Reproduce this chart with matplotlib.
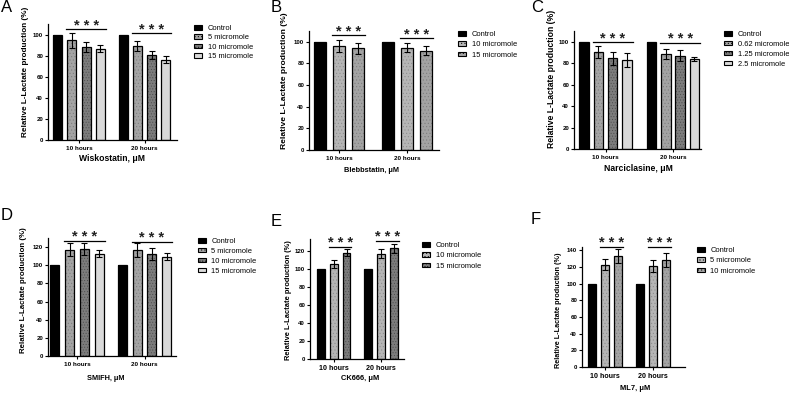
import matplotlib
matplotlib.use('Agg')
import matplotlib.pyplot as plt
from matplotlib.patches import Patch

plt.rcParams['font.family'] = 'Liberation Sans'
plt.rcParams['hatch.linewidth'] = 0.35

groups = ['10 hours', '20 hours']

# A - Wiskostatin
A_labels = ['Control', '5 micromole', '10 micromole', '15 micromole']
A_mean = [[100, 94.5, 88, 86.5], [100, 89.5, 80.5, 76]]
A_err = [[0, 7, 5, 3.5], [0, 4.8, 4, 3.4]]
A_sig = [105, 101]

# B - Blebbstatin
B_labels = ['Control', '10 micromole', '15 micromole']
B_mean = [[100, 96.5, 94], [100, 94.5, 91.7]]
B_err = [[0, 5.6, 5.2], [0, 4, 4.3]]
B_sig = [106, 103.5]

# C - Narciclasine
C_labels = ['Control', '0.62 micromole', '1.25 micromole', '2.5 micromole']
C_mean = [[100, 90, 84.5, 83.3], [100, 88.9, 87, 84]]
C_err = [[0, 5.6, 6, 6.5], [0, 4.6, 5.3, 2]]
C_sig = [99.5, 99]

# D - SMIFH
D_labels = ['Control', '5 micromole', '10 micromole', '15 micromole']
D_mean = [[100, 117, 117.8, 112.6], [100, 117, 112.5, 109.5]]
D_err = [[0, 7.2, 6.5, 4], [0, 7.5, 6.3, 4]]
D_sig = [127, 126]

# E - CK666
E_labels = ['Control', '10 micromole', '15 micromole']
E_mean = [[100, 105, 118], [100, 116.5, 122.5]]
E_err = [[0, 4.4, 3.4], [0, 5, 5.5]]
E_sig = [124.5, 131]

# F - ML7
F_labels = ['Control', '5 micromole', '10 micromole']
F_mean = [[100, 123, 133], [100, 121, 128.5]]
F_err = [[0, 7, 8.5], [0, 7, 8.8]]
F_sig = [144.5, 144.5]

W, H = 789, 395
fig = plt.figure(figsize=(W / 100, H / 100), dpi=100)


def box(l, t, r, b):
    return [l / W, 1 - b / H, (r - l) / W, (b - t) / H]


def panel(letter, lay, labels, means, errs, sig, styles, xlabel):
    l, t, r, b = lay['box']
    ax = fig.add_axes(box(l, t, r, b))
    n = len(labels)
    handles = []
    for g, gc in enumerate(lay['centers']):
        xs = []
        for i in range(n):
            x = gc + (i - (n - 1) / 2) * lay['step']
            xs.append(x)
            fc, hc, hatch = styles[i]
            ax.bar(x, means[g][i], lay['width'], color=fc, edgecolor=hc,
                   hatch=hatch, linewidth=0)
            ax.bar(x, means[g][i], lay['width'], fill=False,
                   edgecolor='black', linewidth=0.9)
            if errs[g][i] > 0:
                ax.errorbar(x, means[g][i], yerr=errs[g][i], fmt='none',
                            ecolor='black', elinewidth=0.8, capsize=2.2,
                            capthick=0.8)
        x0 = xs[1] - lay['width'] / 2 - 1
        x1 = xs[-1] + lay['width'] / 2 + 1
        ax.plot([x0, x1], [sig[g], sig[g]], color='black', lw=0.9,
                clip_on=False)
        ax.annotate('* * *', ((x0 + x1) / 2, sig[g]), xytext=(0, -2.5),
                    textcoords='offset points', ha='center', va='bottom',
                    fontsize=10.5, fontweight='bold', color='#222222',
                    annotation_clip=False)
    for i in range(n):
        fc, hc, hatch = styles[i]
        handles.append(Patch(facecolor=fc, edgecolor='black', hatch=hatch,
                             linewidth=0.8, label=labels[i]))

    ax.set_xlim(l, r)
    ax.set_ylim(0, lay['ymax'])
    ax.set_yticks(range(0, lay['ytop'] + 1, 20))
    ax.set_xticks(lay['centers'])
    ax.set_xticklabels(groups)
    for s in ['top', 'right']:
        ax.spines[s].set_visible(False)
    for s in ['left', 'bottom']:
        ax.spines[s].set_linewidth(0.9)
    ax.tick_params(axis='y', length=2.5, width=0.8, pad=1,
                   labelsize=4.4)
    ax.tick_params(axis='x', length=2, width=0.8, pad=2,
                   labelsize=lay['xt'])
    for lab in ax.get_xticklabels() + ax.get_yticklabels():
        lab.set_fontweight('bold')

    lx, ly = lay['leg']
    ax.legend(handles=handles, loc='upper left',
              bbox_to_anchor=(lx / W, 1 - (ly - 5) / H),
              bbox_transform=fig.transFigure, frameon=False, fontsize=5.4,
              handlelength=1.1, handleheight=0.55, handletextpad=0.7,
              labelspacing=lay['lsp'], borderpad=0, borderaxespad=0)

    yx, yy, ys = lay['ylab']
    fig.text(yx / W, 1 - yy / H, 'Relative L-Lactate production (%)',
             rotation=90, ha='center', va='center', fontsize=ys,
             fontweight='bold')
    xx, xy, xs_ = lay['xlab']
    fig.text(xx / W, 1 - xy / H, xlabel, ha='center', va='center',
             fontsize=xs_, fontweight='bold')
    px, py = lay['letter']
    fig.text(px / W, 1 - py / H, letter, ha='center', va='center',
             fontsize=12)


dark = ('#7c7c7c', '#4a4a4a', '......')
mid = ('#a3a3a3', '#7a7a7a', '.....')
light = ('#d9d9d9', '#d9d9d9', None)
lightdot = ('#b5b5b5', '#8a8a8a', '.....')
black = ('black', 'black', None)

lay_A = dict(box=(48, 24, 177, 140), ymax=110, ytop=100, centers=[79, 144.5],
             step=14.2, width=9, leg=(194, 30), lsp=0.32, xt=4.6,
             ylab=(26, 72, 5.9), xlab=(112, 159, 6.2), letter=(7, 8))
lay_B = dict(box=(309, 31, 439, 150), ymax=110, ytop=100, centers=[339, 407],
             step=19, width=11.5, leg=(458, 36), lsp=0.45, xt=4.6,
             ylab=(284, 81, 6.1), xlab=(372, 170, 5.3), letter=(276, 8))
lay_C = dict(box=(574, 31, 701, 149), ymax=110, ytop=100,
             centers=[605.5, 673], step=14.3, width=9.5, leg=(724, 36),
             lsp=0.38, xt=4.6, ylab=(551, 79, 6.2), xlab=(638, 168, 6.2),
             letter=(537, 8))
lay_D = dict(box=(48, 238, 176, 356), ymax=130, ytop=120, centers=[77, 144.5],
             step=14.7, width=9, leg=(198, 243), lsp=0.38, xt=4.6,
             ylab=(24, 290, 5.7), xlab=(106, 378, 5.3), letter=(7, 215))
lay_E = dict(box=(310, 239, 404, 359), ymax=133, ytop=120,
             centers=[333.8, 381], step=12.7, width=7.8, leg=(422, 247),
             lsp=0.45, xt=5.1, ylab=(288, 300, 5.4), xlab=(360, 378, 5.4),
             letter=(276, 222))
lay_F = dict(box=(582, 247, 685, 367), ymax=144, ytop=140,
             centers=[604.7, 652.7], step=13, width=8.2, leg=(697, 252),
             lsp=0.45, xt=5.1, ylab=(558, 310, 5.2), xlab=(635, 388, 5.4),
             letter=(536, 220))

panel('A', lay_A, A_labels, A_mean, A_err, A_sig, [black, mid, dark, light],
      'Wiskostatin, μM')
panel('B', lay_B, B_labels, B_mean, B_err, B_sig, [black, lightdot, mid],
      'Blebbstatin, μM')
panel('C', lay_C, C_labels, C_mean, C_err, C_sig, [black, mid, dark, light],
      'Narciclasine, μM')
panel('D', lay_D, D_labels, D_mean, D_err, D_sig, [black, mid, dark, light],
      'SMIFH, μM')
panel('E', lay_E, E_labels, E_mean, E_err, E_sig, [black, lightdot, dark],
      'CK666, μM')
panel('F', lay_F, F_labels, F_mean, F_err, F_sig, [black, lightdot, mid],
      'ML7, μM')

fig.savefig('out.png', dpi=100)
